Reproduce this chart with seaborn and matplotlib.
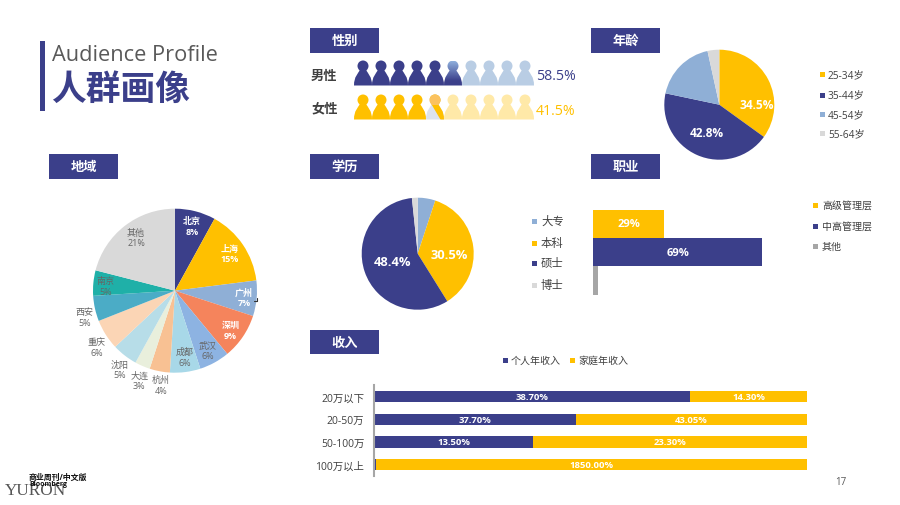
import numpy as np
import pandas as pd
import seaborn as sns
import matplotlib
matplotlib.use("Agg")
import matplotlib.pyplot as plt
from matplotlib.path import Path
from matplotlib.patches import PathPatch, Rectangle, Polygon
from matplotlib.colors import to_rgb

# ---------- data ----------
gender_labels = ["男性", "女性"]
gender_shares = [58.5, 41.5]

age_labels = ["25-34岁", "35-44岁", "45-54岁", "55-64岁"]
age_values = [34.5, 42.8, 18.0, 3.4]

region_labels = ["北京", "上海", "广州", "深圳", "武汉", "成都", "杭州", "大连", "沈阳", "重庆", "西安", "南京", "其他"]
region_values = [8, 15, 7, 9, 6, 6, 4, 3, 5, 6, 5, 5, 21]

edu_labels = ["大专", "本科", "硕士", "博士"]
edu_values = [4.3, 30.5, 48.4, 1.4]

job_labels = ["高级管理层", "中高管理层", "其他"]
job_values = [29, 69, 2]

income_labels = ["20万以下", "20-50万", "50-100万", "100万以上"]
income_personal = [38.7, 37.7, 13.5, 0.1]
income_family = [14.3, 43.05, 23.3, 18.5]
income_personal_text = ["38.70%", "37.70%", "13.50%", ""]
income_family_text = ["14.30%", "43.05%", "23.30%", "1850.00%"]

# ---------- style ----------
NAVY = "#3B3F8A"
GOLD = "#FFC000"
SKY = "#8FAFD6"
LIGHT = "#D9D9D9"
GREY = "#A6A6A6"
TXT = "#404040"
W, H = 900, 506

sns.set_theme(style="white")
plt.rcParams["font.family"] = ["Open Sans", "Noto Sans CJK SC", "DejaVu Sans"]
plt.rcParams["patch.force_edgecolor"] = False

fig = plt.figure(figsize=(W / 100, H / 100), dpi=100, facecolor="white")


def px_axes(x0, y0, x1, y1):
    y0, y1 = y0 + 0.7, y1 + 0.7
    return fig.add_axes([x0 / W, 1 - y1 / H, (x1 - x0) / W, (y1 - y0) / H])


def pie(cx, cy, r, values, colors):
    ax = px_axes(cx - r, cy - r, cx + r, cy + r)
    ax.pie(values, colors=colors, startangle=90, counterclock=False, radius=1,
           wedgeprops={"linewidth": 0, "edgecolor": "none"})
    ax.set_xlim(-1, 1)
    ax.set_ylim(-1, 1)
    ax.set_aspect("auto")
    ax.axis("off")
    return ax


# pies
age_colors = [GOLD, NAVY, SKY, LIGHT]
pie(719.3, 105, 55, age_values, age_colors)
edu_colors = [SKY, GOLD, NAVY, LIGHT]
pie(417.7, 254, 56, edu_values, edu_colors)
region_colors = [NAVY, GOLD, SKY, "#F5845C", "#8DB3E2", "#A8D8E8", "#F8C193",
                 "#E9EFDC", "#B7DDE8", "#FBD5B5", "#4BACC6", "#1FB0A8", LIGHT]
pie(175, 291, 82, region_values, region_colors)

# occupation bars
job_ax = px_axes(593.3, 210, 593.3 + 245, 295)
job_df = pd.DataFrame({"职业": job_labels, "占比": job_values})
sns.barplot(data=job_df, y="职业", x="占比", hue="职业", palette=[GOLD, NAVY, GREY],
            width=1, saturation=1, legend=False, linewidth=0, ax=job_ax)
job_ax.set_xlim(0, 100)
job_ax.set_ylim(2.5, -0.5)
job_ax.axis("off")
for i, v in enumerate(job_values[:2]):
    job_ax.text(v / 2, i, f"{v}%", color="white", ha="center", va="center",
                fontsize=8, fontweight="bold")

# income bars, each row scaled to 100 %
inc_ax = px_axes(374, 385.5, 807, 476.3)
totals = np.array(income_personal) + np.array(income_family)
inc_df = pd.DataFrame({"收入": income_labels,
                       "个人": np.array(income_personal) / totals * 100,
                       "合计": np.full(len(totals), 100.0)})
sns.barplot(data=inc_df, y="收入", x="合计", color=GOLD, width=0.5, saturation=1, linewidth=0, ax=inc_ax)
sns.barplot(data=inc_df, y="收入", x="个人", color=NAVY, width=0.5, saturation=1, linewidth=0, ax=inc_ax)
inc_ax.set_xlim(0, 100)
inc_ax.set_ylim(3.5, -0.5)
inc_ax.set_xlabel("")
inc_ax.set_ylabel("")
inc_ax.set_xticks([])
sns.despine(ax=inc_ax, bottom=True)
inc_ax.spines["left"].set_color(GREY)
inc_ax.spines["left"].set_linewidth(1.5)
inc_ax.patch.set_alpha(0)
inc_ax.tick_params(axis="y", length=0, pad=7, labelsize=7.5, labelcolor=TXT)
for i, share in enumerate(inc_df["个人"]):
    if income_personal_text[i]:
        inc_ax.text(share / 2, i, income_personal_text[i], color="white", ha="center",
                    va="center", fontsize=6.8, fontweight="bold")
    inc_ax.text((share + 100) / 2, i, income_family_text[i], color="white", ha="center",
                va="center", fontsize=6.8, fontweight="bold")

# ---------- overlay in pixel coordinates ----------
ov = fig.add_axes([0, 0, 1, 1])
ov.patch.set_alpha(0)
ov.axis("off")


def reset():
    ov.set_xlim(0, W)
    ov.set_ylim(H, 0)


reset()


def txt(x, y, s, size=7.5, color=TXT, ha="left", weight="normal", **kw):
    ov.text(x, y, s, fontsize=size, color=color, ha=ha, va="center", fontweight=weight, **kw)


def header(x, y, s, h=25):
    ov.add_patch(Rectangle((x, y), 69, h, color=NAVY, lw=0))
    txt(x + 34.5, y + h / 2, s, size=9.5, color="white", ha="center", weight="bold")


def square(x, y, c, s=5):
    ov.add_patch(Rectangle((x, y - s / 2), s, s, color=c, lw=0))


# title
ov.add_patch(Rectangle((40, 42), 5, 70, color=NAVY, lw=0))
txt(52, 55, "Audience Profile", size=15.7, color="#595959")
txt(51, 91, "人群画像", size=25, color=NAVY, weight="bold")

# headers
header(310, 28.5, "性别")
header(591, 28.5, "年龄")
header(49, 155, "地域")
header(310, 155, "学历")
header(591, 155, "职业")
header(310, 331, "收入", h=24)

# people
body = Path([(0, 25), (0, 16), (4, 13), (6, 9.5), (12, 9.5), (14, 13), (18, 16), (18, 25), (0, 25)],
            [Path.MOVETO, Path.CURVE4, Path.CURVE4, Path.CURVE4, Path.LINETO, Path.CURVE4,
             Path.CURVE4, Path.CURVE4, Path.CLOSEPOLY])
circle = Path.circle((9, 5.5), 5.5)
person = Path.make_compound_path(circle, body)


def icon(x, y, color, z=2):
    p = PathPatch(Path(person.vertices + [x, y], person.codes), facecolor=color, edgecolor="none", zorder=z)
    ov.add_patch(p)
    return p


rows = [(61.5, NAVY, "#B9CDE4"), (95.5, GOLD, "#FFE9A8")]
for share, (y, dark, pale) in zip(gender_shares, rows):
    full = int(share // 10)
    for k in range(10):
        x = 354 + k * 18
        if k < full:
            icon(x, y, dark)
        elif k == full and dark == NAVY:
            clip = icon(x, y, "none")
            top, bot = np.array(to_rgb("#8FAFDC")), np.array(to_rgb(NAVY))
            t = np.clip(np.linspace(0, 1.25, 64), 0, 1)[:, None, None]
            grad = (top[None, None, :] * (1 - t) + bot[None, None, :] * t)
            im = ov.imshow(grad, extent=(x, x + 18, y + 25, y), aspect="auto", zorder=2)
            im.set_clip_path(clip)
        elif k == full:
            icon(x, y, "#DDE3EF")
            clip = icon(x, y, "none")
            poly = Polygon([(x + 2, y - 1), (x + 19, y - 1), (x + 19, y + 26), (x + 15, y + 26), (x + 5, y + 9)],
                           color=GOLD, lw=0, zorder=3)
            ov.add_patch(poly)
            poly.set_clip_path(clip)
            head = Polygon([(x, y - 1), (x + 19, y - 1), (x + 19, y + 10), (x, y + 10)],
                           color="#FBC25F", lw=0, zorder=4)
            ov.add_patch(head)
            head.set_clip_path(clip)
        else:
            icon(x, y, pale)
reset()

txt(311, 76, gender_labels[0], size=9.5, weight="bold")
txt(311, 109, gender_labels[1], size=9.5, weight="bold")
txt(536.5, 76, f"{gender_shares[0]}%", size=10.2, color=NAVY)
txt(535.5, 111, f"{gender_shares[1]}%", size=10.2, color=GOLD)

# pie labels
txt(756.7, 105, f"{age_values[0]}%", size=8.6, color="white", ha="center", weight="bold")
txt(707, 133, f"{age_values[1]}%", size=8.6, color="white", ha="center", weight="bold")
txt(449, 255.5, f"{edu_values[1]}%", size=9.3, color="white", ha="center", weight="bold")
txt(392.7, 262, f"{edu_values[2]}%", size=9.3, color="white", ha="center", weight="bold")

region_pos = [(191.7, 221.7), (230, 249), (244, 292.7), (230.7, 325.7), (207.7, 346), (185, 352.7),
              (161, 380.7), (139.3, 376), (119.3, 365), (96.7, 343), (84.3, 313), (105.7, 281.7), (136, 233)]
for i, ((x, y), name, v) in enumerate(zip(region_pos, region_labels, region_values)):
    white = i < 4
    c = "white" if white else "#666666"
    w = "bold" if white else "normal"
    txt(x, y, name, size=6.5, color=c, ha="center", weight=w)
    txt(x, y + 10.4, f"{v}%", size=6.5, color=c, ha="center", weight=w)
ov.plot([254, 257, 257], [302, 302, 299], color="#333333", lw=0.8)
reset()

# legends
for y, name, c in zip([75.7, 96, 115.5, 134.5], age_labels, age_colors):
    square(820, y, c)
    txt(828, y, name, size=7.3)
for y, name, c in zip([222, 244, 264, 286], edu_labels, edu_colors):
    square(531.7, y, c)
    txt(541, y, name, size=8.2)
for y, name, c in zip([206, 227, 247], job_labels, [GOLD, NAVY, GREY]):
    square(813, y, c)
    txt(822, y, name, size=7.2)
square(502.5, 361, NAVY)
txt(511, 361, "个人年收入", size=7.2)
square(570, 361, GOLD)
txt(578, 361, "家庭年收入", size=7.2)

# footer
txt(841, 483, "17", size=7, color="#595959", ha="center")
txt(5, 491, "YURON", size=12.4, color="#555555", family="Liberation Serif")
txt(29, 477.5, "商业周刊/中文版", size=5.7, color="#111111", weight="bold")
txt(29, 485, "Bloomberg", size=5, color="#111111", weight="bold")
reset()

fig.savefig("out.png", dpi=100, facecolor="white")
